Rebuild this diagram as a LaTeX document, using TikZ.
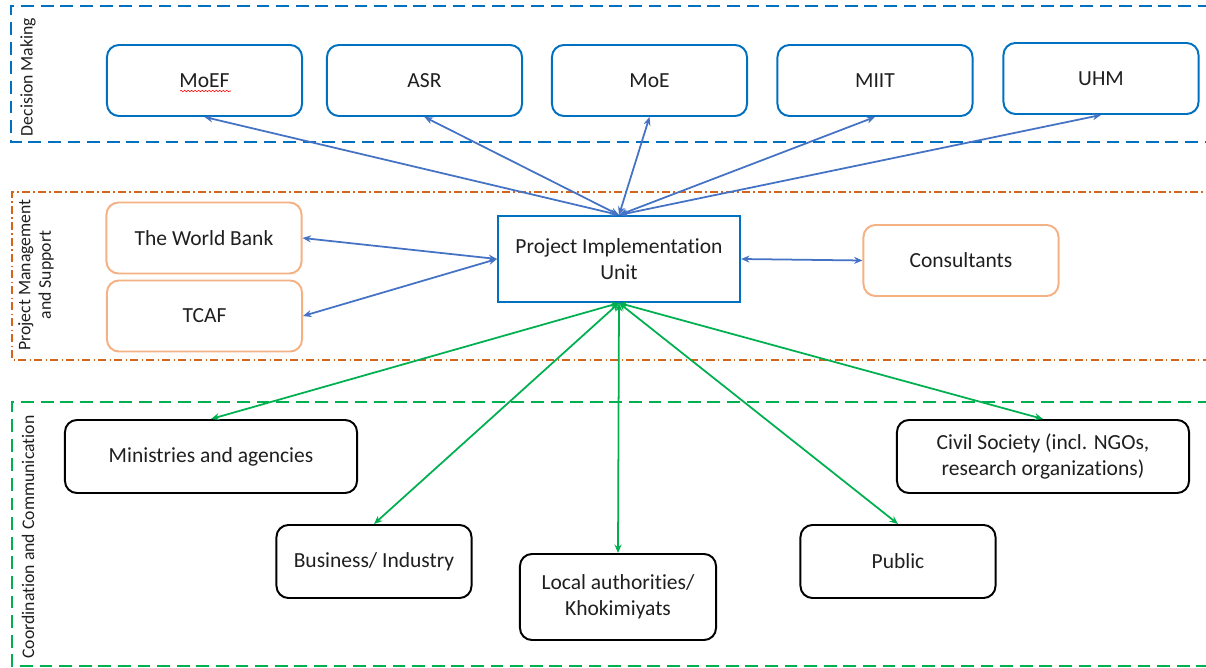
\documentclass[tikz,border=0pt]{standalone}
\usepackage{fontspec}
\setmainfont{Carlito}[Ligatures=NoCommon]
\usetikzlibrary{arrows.meta,decorations.pathmorphing}

\definecolor{dmblue}{RGB}{0,112,192}
\definecolor{lineblue}{RGB}{68,114,196}
\definecolor{pmorange}{RGB}{210,100,30}
\definecolor{boxorange}{RGB}{244,177,131}
\definecolor{ccgreen}{RGB}{0,176,80}

\begin{document}
\begin{tikzpicture}[x=0.025cm, y=-0.025cm,
  every node/.style={font=\fontsize{15.3}{18.5}\selectfont, text=black!88},
  box/.style={rectangle, rounded corners=0.3cm, line width=1.4pt, minimum width=4.875cm, minimum height=1.775cm, align=center},
  dmbox/.style={box, draw=dmblue},
  pmbox/.style={box, draw=boxorange},
  ccbox/.style={box, draw=black},
  side/.style={rotate=90, font=\fontsize{12.6}{14.5}\selectfont, align=center},
  link/.style={<->, >={Stealth[length=6pt,width=5pt]}, line width=1.25pt}]
  \useasboundingbox (0,0) rectangle (1206,668);

  % Frames of the three levels
  \draw[dmblue, line width=1.4pt, dash pattern=on 0.32cm off 0.17cm]
    (1230,6) -- (11,6) -- (11,142) -- (1230,142);
  \draw[pmorange, line width=0.8pt, dash pattern=on 0.2cm off 0.08cm on 0.04cm off 0.08cm]
    (1230,192) -- (12,192) -- (12,360) -- (1230,360);
  \draw[ccgreen, line width=1.4pt, dash pattern=on 0.32cm off 0.17cm]
    (1230,402) -- (12,402) -- (12,666) -- (1230,666);
  \node[side] (dmlabel) at (28,77) {Decision Making};
  \node[side] (pmlabel) at (36,275) {Project Management\\and Support};
  \node[side] (cclabel) at (28,537) {Coordination and Communication};

  % Decision making
  \node[dmbox] (moef) at (204.5,80.5) {MoEF};
  \node[dmbox] (asr) at (424.5,80.5) {ASR};
  \node[dmbox] (moe) at (649.5,80.5) {MoE};
  \node[dmbox] (miit) at (875,80.5) {MIIT};
  \node[dmbox] (uhm) at (1101,78.5) {UHM};
  \draw[red, line width=0.4pt, decorate, decoration={snake, amplitude=0.5pt, segment length=2.5pt}]
    (180,91) -- (231,91); % spell-check mark

  % Project management and support
  \node[draw=dmblue, line width=1.4pt, minimum width=6.05cm, minimum height=2.15cm, align=center]
    (piu) at (619,259) {Project Implementation\\Unit};
  \node[pmbox] (wb) at (204,238) {The World Bank};
  \node[pmbox] (tcaf) at (204.5,316) {TCAF};
  \node[pmbox] (cons) at (961,260.5) {Consultants};

  % Coordination and communication
  \node[ccbox, minimum width=7.3cm, minimum height=1.825cm] (mina) at (211,456.5) {Ministries and agencies};
  \node[ccbox, minimum height=1.825cm] (bus) at (374,561.5) {Business/ Industry};
  \node[ccbox, minimum width=4.9cm, minimum height=2.15cm] (loc) at (618,597) {Local authorities/\\Khokimiyats};
  \node[ccbox, minimum height=1.825cm] (pub) at (898,561.5) {Public};
  \node[ccbox, minimum width=7.3cm, minimum height=1.825cm] (civ) at (1043,456.5) {Civil Society (incl. NGOs,\\research organizations)};

  % Links
  \foreach \n in {moef,asr,moe,miit,uhm}
    \draw[link, lineblue] (\n.south) -- (piu.north);
  \draw[link, lineblue] (wb.east) -- (piu.west);
  \draw[link, lineblue] (tcaf.east) -- (piu.west);
  \draw[link, lineblue] (piu.east) -- (cons.west);
  \foreach \n in {mina,bus,loc,pub,civ}
    \draw[link, ccgreen] (piu.south) -- (\n.north);
\end{tikzpicture}
\end{document}
